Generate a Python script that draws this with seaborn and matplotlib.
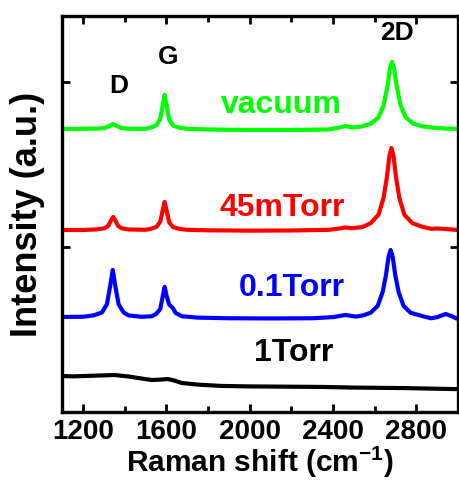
import numpy as np
import pandas as pd
import matplotlib
matplotlib.use("Agg")
import matplotlib.pyplot as plt
import seaborn as sns

# Raman spectra (x in cm^-1, y in a.u. with offsets)
vac_x = [1100, 1200, 1280, 1305, 1332, 1345, 1358, 1385, 1420, 1500, 1527, 1552, 1571, 1583,
         1592, 1601, 1614, 1633, 1664, 1700, 1800, 2000, 2200, 2380, 2430, 2460, 2490, 2530,
         2579, 2617, 2642, 2661, 2673, 2683, 2693, 2704, 2723, 2748, 2785, 2829, 2870, 2930, 3000]
vac_y = [1.715, 1.716, 1.718, 1.721, 1.736, 1.745, 1.736, 1.721, 1.716, 1.716, 1.724, 1.737, 1.776, 1.861,
         1.921, 1.861, 1.771, 1.735, 1.722, 1.716, 1.712, 1.709, 1.709, 1.712, 1.724, 1.733, 1.724, 1.728,
         1.746, 1.784, 1.855, 1.975, 2.080, 2.121, 2.080, 1.985, 1.861, 1.786, 1.747, 1.731, 1.724, 1.718, 1.716]

t45_x = [1100, 1200, 1260, 1303, 1321, 1335, 1345, 1355, 1369, 1387, 1420, 1500, 1527, 1552, 1571, 1583,
         1592, 1601, 1614, 1633, 1664, 1700, 1800, 2000, 2200, 2380, 2430, 2460, 2490, 2540,
         2580, 2618, 2642, 2658, 2670, 2680, 2690, 2702, 2718, 2742, 2780, 2830, 2870, 2900, 2950, 3000]
t45_y = [1.103, 1.103, 1.106, 1.113, 1.127, 1.161, 1.182, 1.161, 1.127, 1.113, 1.106, 1.104, 1.110, 1.121, 1.153, 1.223,
         1.273, 1.223, 1.149, 1.120, 1.109, 1.104, 1.101, 1.099, 1.100, 1.104, 1.112, 1.118, 1.114, 1.120,
         1.144, 1.196, 1.297, 1.421, 1.550, 1.600, 1.550, 1.421, 1.297, 1.196, 1.144, 1.122, 1.110, 1.112, 1.108, 1.103]

t01_x = [1100, 1200, 1250, 1291, 1315, 1331, 1343, 1355, 1371, 1395, 1420, 1480, 1530, 1552, 1571, 1583,
         1592, 1601, 1614, 1630, 1645, 1675, 1750, 1900, 2100, 2300, 2400, 2460, 2510, 2545,
         2581, 2614, 2638, 2654, 2666, 2676, 2686, 2698, 2714, 2738, 2771, 2831, 2870, 2900, 2940, 2970, 3000]
t01_y = [0.576, 0.577, 0.585, 0.603, 0.653, 0.766, 0.861, 0.766, 0.653, 0.603, 0.585, 0.577, 0.580, 0.595, 0.625, 0.703,
         0.758, 0.705, 0.650, 0.632, 0.600, 0.580, 0.572, 0.568, 0.567, 0.568, 0.575, 0.588, 0.578, 0.586,
         0.602, 0.643, 0.728, 0.832, 0.940, 0.982, 0.940, 0.832, 0.728, 0.643, 0.602, 0.580, 0.568, 0.575, 0.594, 0.580, 0.562]

t1_x = [1100, 1150, 1230, 1300, 1353, 1420, 1480, 1530, 1570, 1606, 1640, 1673, 1750, 1864, 2000, 2342, 2500, 2738, 2977, 3000]
t1_y = [0.218, 0.216, 0.219, 0.222, 0.224, 0.215, 0.203, 0.194, 0.196, 0.200, 0.190, 0.176, 0.166, 0.158, 0.155, 0.152, 0.148, 0.145, 0.139, 0.139]

samples = ["vacuum", "45mTorr", "0.1Torr", "1Torr"]
colors = ["#00FF00", "#FF0000", "#0000FF", "#000000"]

df = pd.concat([
    pd.DataFrame({"x": vac_x, "y": vac_y, "sample": "vacuum"}),
    pd.DataFrame({"x": t45_x, "y": t45_y, "sample": "45mTorr"}),
    pd.DataFrame({"x": t01_x, "y": t01_y, "sample": "0.1Torr"}),
    pd.DataFrame({"x": t1_x, "y": t1_y, "sample": "1Torr"}),
])

sns.set_style("ticks", {"axes.edgecolor": "black", "text.color": "black", "axes.labelcolor": "black",
                        "xtick.color": "black", "ytick.color": "black"})
plt.rcParams["font.family"] = ["Liberation Sans", "DejaVu Sans"]
plt.rcParams["font.weight"] = "bold"
plt.rcParams["mathtext.fontset"] = "custom"
plt.rcParams["mathtext.bf"] = "Liberation Sans:bold"
plt.rcParams["mathtext.rm"] = "Liberation Sans:bold"
plt.rcParams["mathtext.default"] = "bf"

fig = plt.figure(figsize=(4.6, 4.83), dpi=100)
ax = fig.add_axes([0.135, 0.147, 0.861, 0.820])

sns.lineplot(data=df, x="x", y="y", hue="sample", hue_order=samples, palette=colors,
             sort=False, estimator=None, linewidth=3.0, legend=False, ax=ax)

ax.set_xlim(1100, 3000)
ax.set_ylim(0, 2.4)
ax.set_xticks([1200, 1600, 2000, 2400, 2800])
ax.set_xticks([1400, 1800, 2200, 2600], minor=True)
ax.set_yticks([1, 2])
ax.tick_params(which="both", direction="in", top=True, right=True, width=2, color="black")
ax.tick_params(which="major", length=6)
ax.tick_params(which="minor", length=4)
ax.tick_params(axis="x", labelsize=20, pad=5, labelcolor="black")
ax.tick_params(axis="y", labelleft=False)
for lab in ax.get_xticklabels():
    lab.set_fontweight("bold")
for sp in ax.spines.values():
    sp.set_linewidth(2.4)
    sp.set_color("black")

ax.set_xlabel(r"Raman shift (cm$^{-1}$)", fontsize=21.5, fontweight="bold", labelpad=0, color="black")
ax.set_ylabel("Intensity (a.u.)", fontsize=26, fontweight="bold", labelpad=12, color="black")

# peak and sample labels
ax.text(1372, 1.976, "D", fontsize=19, fontweight="bold", ha="center", va="center")
ax.text(1611, 2.15, "G", fontsize=19, fontweight="bold", ha="center", va="center")
ax.text(2705, 2.297, "2D", fontsize=19, fontweight="bold", ha="center", va="center")
ax.text(2151, 1.86, "vacuum", fontsize=23, fontweight="bold", color="#00FF00", ha="center", va="center")
ax.text(2156, 1.236, "45mTorr", fontsize=23, fontweight="bold", color="#FF0000", ha="center", va="center")
ax.text(2203, 0.75, "0.1Torr", fontsize=23, fontweight="bold", color="#0000FF", ha="center", va="center")
ax.text(2213, 0.357, "1Torr", fontsize=23, fontweight="bold", color="#000000", ha="center", va="center")

fig.savefig("out.png", dpi=100)
